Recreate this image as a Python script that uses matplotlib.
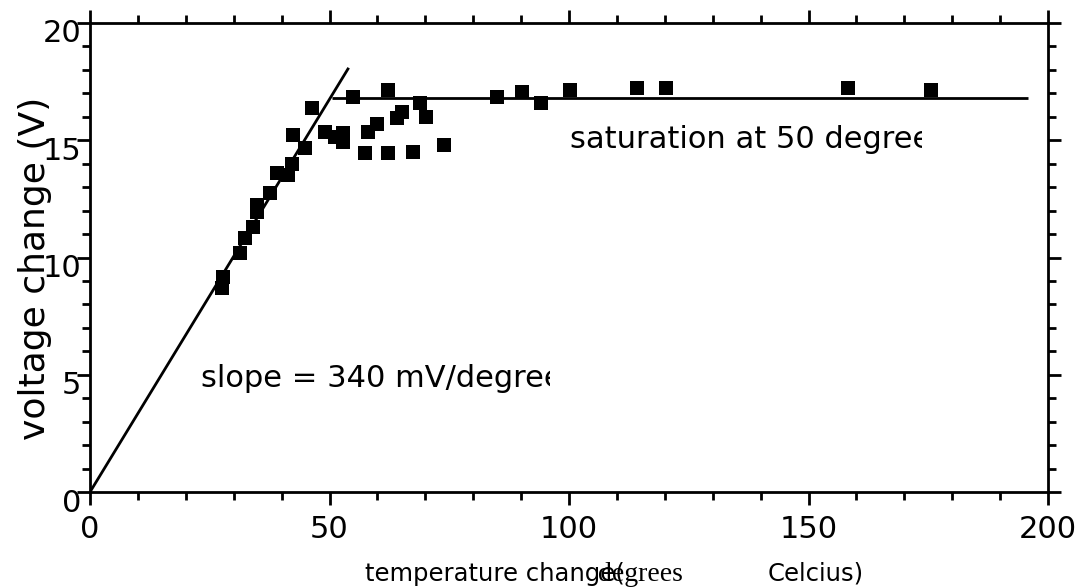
import numpy as np
import matplotlib
matplotlib.use("Agg")
import matplotlib.pyplot as plt
from matplotlib.transforms import ScaledTranslation, Bbox, TransformedBbox
from matplotlib.ticker import MultipleLocator

# -----------------------------
# Data
# -----------------------------
temp_change = [27.5, 27.85, 31.3, 32.4, 34.1, 34.9, 34.9, 37.6, 39.1, 41.4,
               42.2, 44.9, 42.3, 46.3, 49.1, 51.2, 52.9, 52.9, 55.0, 57.4,
               58.1, 60.0, 62.3, 62.3, 64.1, 65.1, 67.4, 68.9, 70.2, 74.0,
               85.0, 90.2, 94.1, 100.3, 114.2, 120.3, 158.3, 175.5]
volt_change = [8.69, 9.18, 10.18, 10.82, 11.31, 11.95, 12.24, 12.74, 13.59, 13.52,
               14.0, 14.66, 15.22, 16.36, 15.36, 15.15, 15.30, 14.94, 16.86, 14.44,
               15.36, 15.69, 17.14, 14.44, 15.94, 16.22, 14.51, 16.58, 16.0, 14.80,
               16.84, 17.05, 16.58, 17.14, 17.24, 17.24, 17.24, 17.14]

# fit lines
slope_V_per_deg = 0.335
slope_range = [0, 54]
sat_level = 16.8
sat_range = [50.5, 195.8]

x_ticks = [0, 50, 100, 150, 200]
y_ticks = [0, 5, 10, 15, 20]

# -----------------------------
# Figure
# -----------------------------
fig = plt.figure(figsize=(10.86, 5.88), dpi=100)
ax = fig.add_axes([90/1086, 96/588, 958/1086, 469/588])

ax.plot(temp_change, volt_change, "s", color="black", ms=10.5, mew=0)
xs = np.array(slope_range, dtype=float)
ax.plot(xs, slope_V_per_deg * xs, color="black", lw=2, solid_capstyle="butt")
ax.plot(sat_range, [sat_level, sat_level], color="black", lw=2, solid_capstyle="butt")

ax.set_xlim(0, 200)
ax.set_ylim(0, 20)
ax.set_xticks(x_ticks)
ax.set_yticks(y_ticks)
ax.xaxis.set_minor_locator(MultipleLocator(10))
ax.yaxis.set_minor_locator(MultipleLocator(1))

for s in ax.spines.values():
    s.set_linewidth(2)
ax.tick_params(which="both", direction="out", width=2, top=True, right=True,
               labelsize=22)
ax.tick_params(which="major", length=9.4)
ax.tick_params(which="minor", length=5.5)
ax.tick_params(axis="x", pad=7)
ax.tick_params(axis="y", pad=-3)

# y tick labels sit a bit below their ticks in the original
off = ScaledTranslation(0, -8/100, fig.dpi_scale_trans)
for t in ax.yaxis.get_major_ticks():
    t.label1.set_transform(t.label1.get_transform() + off)

# annotations, cut off at the right like in the original
t1 = ax.text(23.1, 4.49, "slope = 340 mV/degrees", fontsize=22, va="baseline")
t1.set_clip_box(TransformedBbox(Bbox([[0, 0], [96.0, 20]]), ax.transData))
t1.set_clip_on(True)
t2 = ax.text(100.3, 14.67, "saturation at 50 degrees", fontsize=22, va="baseline")
t2.set_clip_box(TransformedBbox(Bbox([[0, 0], [173.6, 20]]), ax.transData))
t2.set_clip_on(True)

# axis labels
fig.text(35/1086, 1 - 268/588, "voltage change (V)", fontsize=26,
         rotation=90, ha="center", va="center")
fig.text(365/1086, 1 - 581/588, "temperature change(", fontsize=17.5, va="baseline")
fig.text(598/1086, 1 - 581/588, "degrees", fontsize=20,
         family="Liberation Serif", va="baseline")
fig.text(768/1086, 1 - 581/588, "Celcius)", fontsize=17.5, va="baseline")

fig.savefig("out.png", dpi=100)
